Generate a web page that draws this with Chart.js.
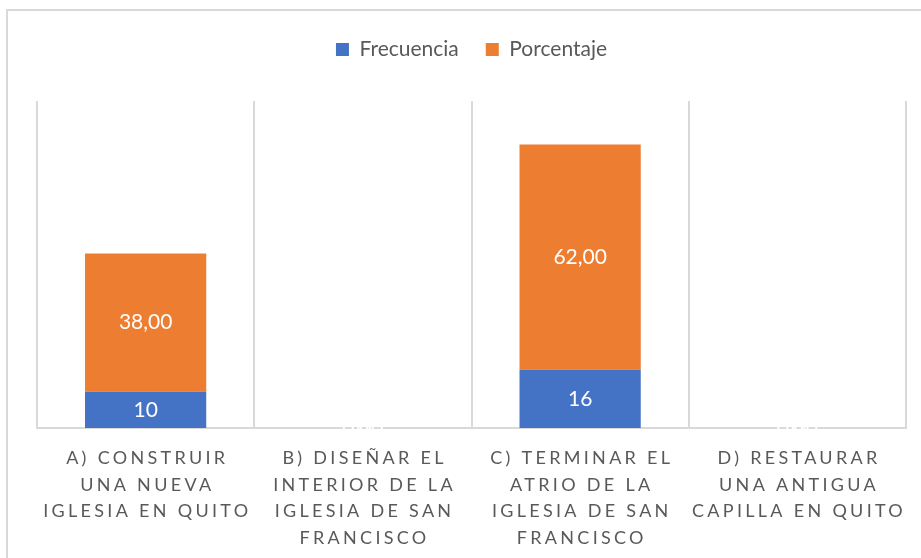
<!DOCTYPE html>
<html>
<head>
<meta charset="utf-8">
<script src="https://cdn.jsdelivr.net/npm/chart.js@4"></script>
<style>
  html, body { margin: 0; padding: 0; background: #ffffff; }
  #wrap { position: relative; width: 921px; height: 558px; overflow: hidden; }
  canvas { display: block; }
</style>
</head>
<body>
<div id="wrap"><canvas id="c" width="921" height="558"></canvas></div>
<script>
const categories = [
  ["A) CONSTRUIR", "UNA NUEVA", "IGLESIA EN QUITO"],
  ["B) DISEÑAR EL", "INTERIOR DE LA", "IGLESIA DE SAN", "FRANCISCO"],
  ["C) TERMINAR EL", "ATRIO DE LA", "IGLESIA DE SAN", "FRANCISCO"],
  ["D) RESTAURAR", "UNA ANTIGUA", "CAPILLA EN QUITO"]
];
const frecuencia = [10, 0, 16, 0];
const porcentaje = [38, 0, 62, 0];
const seriesNames = ["Frecuencia", "Porcentaje"];
const yMax = 90;

const LS = 3.3; // letter spacing for category labels

const borderPlugin = {
  id: 'outerBorder',
  beforeDraw(chart) {
    const ctx = chart.ctx;
    ctx.save();
    ctx.strokeStyle = '#d9d9d9';
    ctx.lineWidth = 2;
    ctx.strokeRect(7, 10, 1000, 1000);
    ctx.restore();
  }
};

const legendGap = {
  id: 'legendGap',
  afterInit(chart) {
    const lg = chart.legend;
    if (lg && !lg._gapPatched) {
      const f = lg.fit;
      lg.fit = function () { f.call(this); if (this.options.display) this.height += 31; };
      lg._gapPatched = true;
    }
  }
};

const spacedTicks = {
  id: 'spacedTicks',
  afterUpdate(chart) {
    const sc = chart.scales.x;
    if (sc && !sc._spaced) {
      const orig = sc.drawLabels;
      sc.drawLabels = function (area) {
        const ctx = this.ctx;
        ctx.save();
        ctx.letterSpacing = LS + 'px';
        ctx.translate(LS / 2, 0);
        orig.call(this, area);
        ctx.restore();
      };
      sc._spaced = true;
    }
  }
};

const valueLabels = {
  id: 'valueLabels',
  afterDatasetsDraw(chart) {
    const ctx = chart.ctx;
    ctx.save();
    ctx.font = '21px Lato, "Open Sans", sans-serif';
    ctx.fillStyle = '#ffffff';
    ctx.textAlign = 'center';
    ctx.textBaseline = 'middle';
    chart.data.datasets.forEach((ds, di) => {
      const meta = chart.getDatasetMeta(di);
      meta.data.forEach((el, i) => {
        const v = ds.data[i];
        const txt = di === 0 ? String(v) : v.toFixed(2).replace('.', ',');
        const p = el.getCenterPoint();
        ctx.fillText(txt, p.x, p.y);
      });
    });
    ctx.restore();
  }
};

new Chart(document.getElementById('c'), {
  type: 'bar',
  data: {
    labels: categories,
    datasets: [
      { label: seriesNames[0], data: frecuencia, backgroundColor: '#4472C4', borderWidth: 0,
        categoryPercentage: 1, barPercentage: 0.558 },
      { label: seriesNames[1], data: porcentaje, backgroundColor: '#ED7D31', borderWidth: 0,
        categoryPercentage: 1, barPercentage: 0.558 }
    ]
  },
  options: {
    responsive: false,
    devicePixelRatio: 1,
    animation: false,
    layout: { padding: { left: 37, right: 15, top: 12, bottom: 7 } },
    plugins: {
      legend: {
        position: 'top',
        align: 'center',
        labels: {
          boxWidth: 13, boxHeight: 13, padding: 27,
          color: '#595959',
          font: { family: 'Lato, "Open Sans", sans-serif', size: 21 }
        }
      },
      tooltip: { enabled: false }
    },
    scales: {
      x: {
        stacked: true,
        afterFit(scale) { scale.height = 123; },
        grid: { display: true, color: '#d9d9d9', lineWidth: 2, drawTicks: false, offset: true },
        border: { display: true, color: '#d9d9d9', width: 2 },
        ticks: {
          color: '#595959', padding: 17, maxRotation: 0, minRotation: 0, autoSkip: false,
          font: { family: 'Lato, "Open Sans", sans-serif', size: 18, lineHeight: '26.5px' }
        }
      },
      y: {
        stacked: true, display: false, min: 0, max: yMax
      }
    }
  },
  plugins: [borderPlugin, legendGap, spacedTicks, valueLabels]
});
</script>
</body>
</html>
